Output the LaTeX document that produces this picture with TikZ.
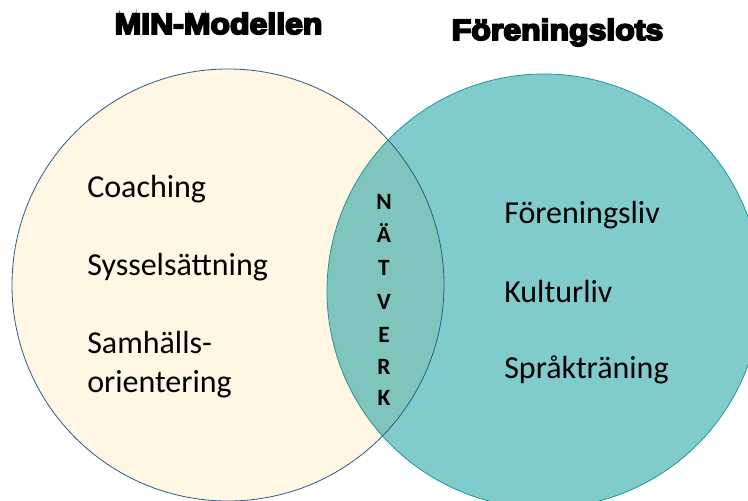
\documentclass[tikz,border=0pt]{standalone}
\usepackage{fontspec}
\setmainfont{Carlito}
\newfontfamily\titlefont[FakeBold=6]{Liberation Sans}
\definecolor{cream}{HTML}{FFF7E4}
\definecolor{tealfill}{HTML}{80CBCB}
\definecolor{lensfill}{HTML}{7FC5BE}
\definecolor{leftline}{HTML}{2F5B88}
\definecolor{rightline}{HTML}{1F9898}
\tikzset{
  itemtext/.style={anchor=base west, inner sep=0pt, font=\fontsize{24pt}{29pt}\selectfont, align=left},
  lettertext/.style={anchor=base, inner sep=0pt, font=\fontsize{17.5pt}{21pt}\selectfont\bfseries},
  titletext/.style={anchor=base, inner sep=0pt, font=\fontsize{22pt}{26pt}\selectfont\titlefont\bfseries}
}
\begin{document}
\begin{tikzpicture}[x=0.75pt,y=-0.75pt]
\useasboundingbox (0,0) rectangle (748,500);
\fill[white] (0,0) rectangle (748,500);
% circles
\fill[cream] (228,285) circle[radius=162pt];
\fill[tealfill] (544,291) circle[radius=162.75pt];
\begin{scope}
  \clip (228,285) circle[radius=162pt];
  \fill[lensfill] (544,291) circle[radius=162.75pt];
\end{scope}
\draw[leftline, line width=0.6pt] (228,285) circle[radius=162pt];
\draw[rightline, line width=0.6pt] (544,291) circle[radius=162.75pt];
% titles
\node[titletext] (t1) at (218.5,34) {\scalebox{1.09}[1]{MIN-Modellen}};
\node[titletext] (t2) at (557.5,40) {\scalebox{1.09}[1]{Föreningslots}};
% left items
\node[itemtext] (l1) at (87,197) {Coaching};
\node[itemtext] (l2) at (87,275) {Sysselsättning};
\node[itemtext] (l3) at (87,353) {Samhälls-};
\node[itemtext] (l4) at (87,392) {orientering};
% right items
\node[itemtext] (r1) at (504,223) {Föreningsliv};
\node[itemtext] (r2) at (504,302) {Kulturliv};
\node[itemtext] (r3) at (504,378) {Språkträning};
% NÄTVERK
\node[lettertext] (n1) at (384,209) {N};
\node[lettertext] (n2) at (384,242) {Ä};
\node[lettertext] (n3) at (384,275) {T};
\node[lettertext] (n4) at (384,309) {V};
\node[lettertext] (n5) at (384,342) {E};
\node[lettertext] (n6) at (384,374) {R};
\node[lettertext] (n7) at (384,405) {K};
\end{tikzpicture}
\end{document}
